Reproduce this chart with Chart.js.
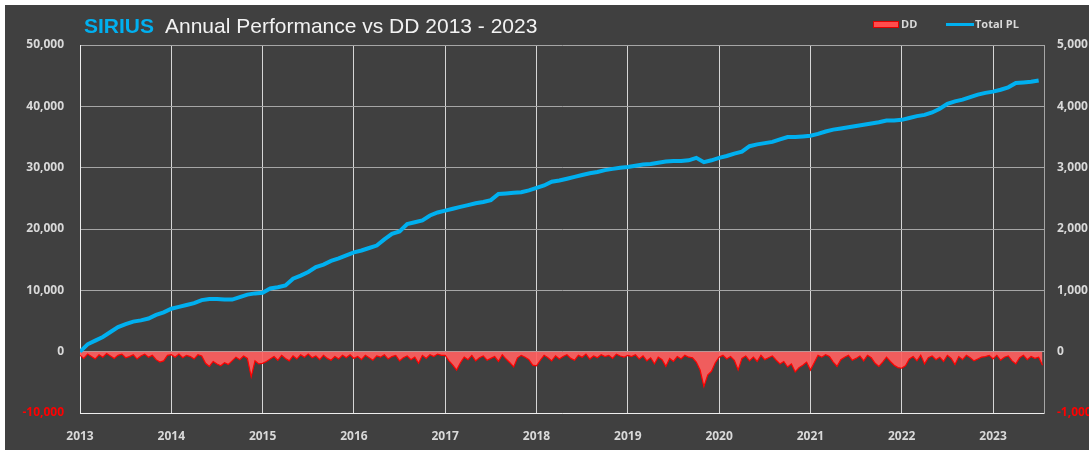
<!DOCTYPE html>
<html>
<head>
<meta charset="utf-8">
<script src="https://cdn.jsdelivr.net/npm/chart.js@4.4.0/dist/chart.umd.min.js"></script>
<style>
  html, body { margin: 0; padding: 0; background: #fff; }
  #wrap { position: absolute; left: 5px; top: 5px; width: 1084px; height: 445px; }
</style>
</head>
<body>
<div id="wrap"><canvas id="c" width="1084" height="445"></canvas></div>
<script>
// month index 0 = Jan 2013
const yearLabels = ['2013','2014','2015','2016','2017','2018','2019','2020','2021','2022','2023'];

// Total PL, one value per month (left axis)
const plValues = [
  0,1200,1800,2400,3200,4000,4500,4900,5100,5400,6000,6400,
  7000,7300,7600,7900,8400,8600,8600,8500,8500,8900,9300,9500,
  9600,10300,10500,10800,11900,12400,13000,13800,14200,14800,15200,15700,
  16200,16500,16900,17300,18300,19200,19600,20800,21100,21400,22200,22700,
  23000,23300,23600,23900,24200,24400,24700,25700,25800,25900,26000,26300,
  26700,27100,27700,27900,28200,28500,28800,29100,29300,29600,29800,30000,
  30100,30300,30500,30600,30800,31000,31100,31100,31200,31600,30900,31200,
  31600,31900,32300,32600,33500,33800,34000,34200,34600,35000,35000,35100,
  35200,35500,35900,36200,36400,36600,36800,37000,37200,37400,37700,37700,
  37800,38100,38400,38600,39000,39600,40400,40800,41100,41500,41900,42200,
  42400,42700,43100,43800,43900,44000,44200
];

// DD, two values per month (right axis)
const ddValues = [
  -60,-110,-40,-80,-120,-50,-90,-30,-70,-110,-60,-40,-100,-80,-50,-120,-70,-40,-90,-60,-130,-170,-150,-60,
  -50,-90,-40,-100,-60,-80,-120,-50,-70,-190,-240,-160,-200,-230,-180,-210,-150,-90,-130,-70,-110,-410,-150,-200,
  -190,-160,-120,-80,-140,-60,-110,-150,-70,-120,-50,-90,-40,-100,-70,-130,-60,-110,-140,-80,-120,-60,-100,-50,
  -110,-80,-130,-60,-100,-140,-70,-90,-50,-120,-80,-60,-150,-100,-70,-130,-90,-190,-60,-110,-50,-80,-40,-60,
  -60,-150,-220,-300,-180,-90,-130,-60,-150,-100,-70,-140,-110,-80,-160,-50,-120,-180,-250,-100,-60,-90,-130,-220,
  -230,-140,-60,-100,-150,-70,-120,-80,-50,-110,-140,-60,-90,-40,-120,-70,-100,-50,-80,-60,-110,-40,-70,-90,
  -60,-80,-50,-120,-70,-150,-100,-200,-90,-130,-240,-110,-160,-80,-120,-60,-90,-100,-170,-300,-570,-380,-320,-180,
  -90,-60,-120,-80,-140,-300,-110,-70,-150,-90,-160,-60,-130,-100,-70,-140,-200,-160,-250,-200,-330,-260,-220,-170,
  -300,-180,-60,-90,-50,-80,-170,-240,-130,-90,-60,-140,-110,-70,-150,-60,-100,-190,-240,-170,-90,-160,-220,-260,
  -270,-230,-120,-80,-150,-60,-200,-100,-70,-130,-90,-160,-60,-110,-210,-80,-130,-60,-100,-150,-120,-90,-80,-60,
  -120,-60,-140,-90,-70,-150,-200,-100,-60,-130,-80,-110,-90,-220
];

const plData = plValues.map((v, i) => ({ x: i, y: v }));
const ddData = ddValues.map((v, i) => ({ x: i / 2, y: v }));

const labelColor = '#d9d9d9';
const negColor = '#ff0000';
const tickFont = { family: 'Open Sans', weight: 'bold', size: 12 };

const decor = {
  id: 'decor',
  beforeDraw(chart) {
    const ctx = chart.ctx;
    ctx.save();
    ctx.fillStyle = '#404040';
    ctx.fillRect(0, 0, chart.width, chart.height);
    ctx.restore();
  },
  afterDraw(chart) {
    const ctx = chart.ctx;
    ctx.save();
    // title
    ctx.textBaseline = 'alphabetic';
    ctx.fillStyle = '#00b0f0';
    ctx.font = 'bold 21px "Liberation Sans", Arial';
    ctx.fillText('SIRIUS', 79, 28);
    ctx.fillStyle = '#f2f2f2';
    ctx.font = '21px "Liberation Sans", Arial';
    ctx.fillText('Annual Performance vs DD 2013 - 2023', 160, 28);
    // legend
    ctx.font = 'bold 11px "Open Sans"';
    ctx.textBaseline = 'middle';
    ctx.fillStyle = '#ff4d4d';
    ctx.fillRect(868, 16, 26, 7);
    ctx.strokeStyle = '#e00000';
    ctx.lineWidth = 1;
    ctx.strokeRect(868.5, 16.5, 25, 6);
    ctx.fillStyle = labelColor;
    ctx.fillText('DD', 896, 19.5);
    ctx.strokeStyle = '#00b0f0';
    ctx.lineWidth = 3;
    ctx.beginPath();
    ctx.moveTo(941, 19.5);
    ctx.lineTo(969, 19.5);
    ctx.stroke();
    ctx.fillText('Total PL', 970, 19.5);
    ctx.restore();
  }
};

new Chart(document.getElementById('c'), {
  type: 'line',
  data: {
    datasets: [
      {
        label: 'Total PL',
        data: plData,
        yAxisID: 'y',
        borderColor: '#00b0f0',
        borderWidth: 4,
        pointRadius: 0,
        tension: 0,
        fill: false,
        order: 0
      },
      {
        label: 'DD',
        data: ddData,
        yAxisID: 'y1',
        borderColor: '#ff0000',
        backgroundColor: 'rgba(255, 95, 95, 0.92)',
        borderWidth: 1.2,
        pointRadius: 0,
        tension: 0,
        fill: 'origin',
        order: 1
      }
    ]
  },
  options: {
    responsive: false,
    animation: false,
    layout: { padding: { top: 40, left: 0, right: 0, bottom: 0 } },
    plugins: { legend: { display: false }, tooltip: { enabled: false } },
    scales: {
      x: {
        type: 'linear',
        min: 0,
        max: 126.7,
        afterBuildTicks: s => { s.ticks = yearLabels.map((l, i) => ({ value: i * 12 })); },
        afterFit: s => { s.height = 37; },
        ticks: {
          autoSkip: false,
          maxRotation: 0,
          padding: 16,
          color: labelColor,
          font: tickFont,
          callback: (v, i) => yearLabels[i]
        },
        grid: { color: '#d6d6d6', drawTicks: false },
        border: { color: '#eeeeee' }
      },
      y: {
        position: 'left',
        min: -10000,
        max: 50000,
        afterFit: s => { s.width = 75; },
        ticks: {
          stepSize: 10000,
          padding: 16,
          font: tickFont,
          color: c => c.tick.value < 0 ? negColor : labelColor,
          callback: v => v.toLocaleString('en-US')
        },
        grid: { color: '#a6a6a6', drawTicks: false },
        border: { color: '#eeeeee' }
      },
      y1: {
        position: 'right',
        min: -1000,
        max: 5000,
        afterFit: s => { s.width = 45; },
        ticks: {
          stepSize: 1000,
          padding: 13,
          font: tickFont,
          color: c => c.tick.value < 0 ? negColor : labelColor,
          callback: v => v.toLocaleString('en-US')
        },
        grid: { drawOnChartArea: false, drawTicks: false },
        border: { color: '#a6a6a6' }
      }
    }
  },
  plugins: [decor]
});
</script>
</body>
</html>
